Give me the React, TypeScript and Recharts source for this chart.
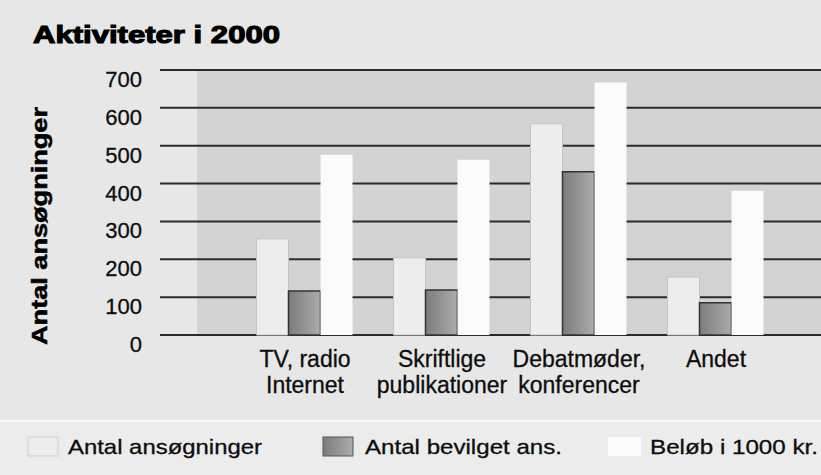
import React from "react";
import { BarChart, Bar, XAxis, YAxis, CartesianGrid } from "recharts";

const categories = ["TV, radio\nInternet", "Skriftlige\npublikationer", "Debatmøder,\nkonferencer", "Andet"];
const ansogninger = [254, 204, 558, 153];
const bevilget = [116, 119, 431, 85];
const belob = [476, 463, 667, 381];
const yTicks = [0, 100, 200, 300, 400, 500, 600, 700];
const seriesNames = ["Antal ansøgninger", "Antal bevilget ans.", "Beløb i 1000 kr."];
const title = "Aktiviteter i 2000";
const yLabel = "Antal ansøgninger";

const data = categories.map((c, i) => ({
  name: c,
  a: ansogninger[i],
  b: bevilget[i],
  c: belob[i],
}));

const FONT = "'Liberation Sans', Arial, sans-serif";

const XTick = (props: any) => {
  const { x, y, payload } = props;
  const lines = String(payload.value).split("\n");
  return (
    <g>
      {lines.map((l: string, i: number) => (
        <text
          key={i}
          x={x}
          y={y + 32 + i * 26}
          textAnchor="middle"
          fontFamily={FONT}
          fontSize={23}
          fill="#0d0d0d"
          stroke="#0d0d0d"
          strokeWidth={0.3}
        >
          {l}
        </text>
      ))}
    </g>
  );
};

const YTick = (props: any) => {
  const { x, y, payload } = props;
  return (
    <text x={x} y={y + 17} textAnchor="end" fontFamily={FONT} fontSize={22} fill="#0d0d0d" stroke="#0d0d0d" strokeWidth={0.3}>
      {payload.value}
    </text>
  );
};

export default function App() {
  return (
    <div
      style={{
        position: "absolute",
        left: 0,
        top: 0,
        width: 821,
        height: 475,
        background: "#e7e7e7",
        overflow: "hidden",
      }}
    >
      <div style={{ position: "absolute", left: 0, top: 420, width: 821, height: 55, background: "#ececec", borderTop: "2px solid #f8f8f8" }} />
      <div style={{ position: "absolute", left: 0, top: 0 }}>
        <BarChart
          width={821}
          height={475}
          data={data}
          margin={{ top: 70, right: 0, left: 0, bottom: 90 }}
          barCategoryGap={20}
          barGap={0}
        >
          <defs>
            <linearGradient id="gradB" x1="0" y1="0" x2="1" y2="0">
              <stop offset="0%" stopColor="#7c7c7c" />
              <stop offset="100%" stopColor="#acacac" />
            </linearGradient>
          </defs>
          <CartesianGrid vertical={false} stroke="#2b2b2b" strokeWidth={2} fill="#d3d3d3" fillOpacity={1} />
          <XAxis
            dataKey="name"
            tick={<XTick />}
            tickLine={false}
            axisLine={false}
            tickSize={0}
            tickMargin={0}
            height={50}
            padding={{ left: 39.5, right: 36.5 }}
            interval={0}
          />
          <YAxis
            width={197}
            domain={[0, 700]}
            ticks={yTicks}
            interval={0}
            axisLine={false}
            tickSize={37}
            tickMargin={18}
            tickLine={{ stroke: "#2b2b2b", strokeWidth: 2 }}
            tick={<YTick />}
          />
          <Bar dataKey="a" name={seriesNames[0]} fill="#ededed" stroke="#c4c4c4" strokeWidth={1} isAnimationActive={false} />
          <Bar dataKey="b" name={seriesNames[1]} fill="url(#gradB)" stroke="#333" strokeWidth={1.5} isAnimationActive={false} />
          <Bar dataKey="c" name={seriesNames[2]} fill="#fbfbfb" isAnimationActive={false} />
        </BarChart>
      </div>
      <svg width={821} height={475} style={{ position: "absolute", left: 0, top: 0, pointerEvents: "none" }}>
        <defs>
          <linearGradient id="gradL" x1="0" y1="0" x2="1" y2="0">
            <stop offset="0%" stopColor="#7c7c7c" />
            <stop offset="100%" stopColor="#acacac" />
          </linearGradient>
        </defs>
        <text
          x={33}
          y={43}
          fontFamily={FONT}
          fontWeight={900}
          fontSize={24}
          textLength={247}
          lengthAdjust="spacingAndGlyphs"
          fill="#000"
          stroke="#000"
          strokeWidth={1.1}
        >
          {title}
        </text>
        <text
          x={47}
          y={226}
          transform="rotate(-90 47 226)"
          textAnchor="middle"
          fontFamily={FONT}
          fontWeight={700}
          fontSize={22}
          textLength={238}
          lengthAdjust="spacingAndGlyphs"
          fill="#000"
          stroke="#000"
          strokeWidth={0.5}
        >
          {yLabel}
        </text>
        <rect x={28} y={437} width={30} height={19} fill="#ececec" stroke="#cfcfcf" strokeWidth={1} />
        <text x={68} y={454} fontFamily={FONT} fontSize={21} textLength={194} lengthAdjust="spacingAndGlyphs" fill="#0d0d0d" stroke="#0d0d0d" strokeWidth={0.3}>
          {seriesNames[0]}
        </text>
        <rect x={323} y={437} width={30} height={19} fill="url(#gradL)" stroke="#555" strokeWidth={1} />
        <text x={365} y={454} fontFamily={FONT} fontSize={21} textLength={197} lengthAdjust="spacingAndGlyphs" fill="#0d0d0d" stroke="#0d0d0d" strokeWidth={0.3}>
          {seriesNames[1]}
        </text>
        <rect x={608} y={437} width={33} height={19} fill="#fbfbfb" />
        <text x={650} y={454} fontFamily={FONT} fontSize={21} textLength={168} lengthAdjust="spacingAndGlyphs" fill="#0d0d0d" stroke="#0d0d0d" strokeWidth={0.3}>
          {seriesNames[2]}
        </text>
      </svg>
    </div>
  );
}
